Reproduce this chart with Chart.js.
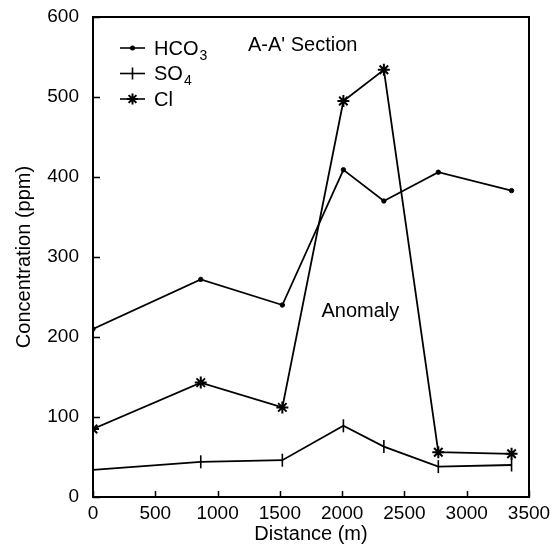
<!DOCTYPE html>
<html>
<head>
<meta charset="utf-8">
<script src="https://cdn.jsdelivr.net/npm/chart.js@4/dist/chart.umd.min.js"></script>
<style>
  html, body { margin: 0; padding: 0; background: #fff; }
  #wrap { width: 557px; height: 546px; }
</style>
</head>
<body>
<div id="wrap"><canvas id="chem-chart" width="557" height="546"></canvas></div>
<script>
// Jarak titik sampel (m)
const distance = [0, 865, 1520, 2010, 2335, 2772, 3360];

// Konsentrasi (ppm)
const hco3 = [210, 272, 240, 409, 370, 406, 383];
const so4 = [34, 44, 46, 89, 63, 38, 40];
const cl = [85, 143, 112, 495, 534, 56, 54];

const seriesNames = ["HCO", "SO", "Cl"];
const seriesSubs = ["3", "4", ""];

const xTicks = [0, 500, 1000, 1500, 2000, 2500, 3000, 3500];
const yTicks = [0, 100, 200, 300, 400, 500, 600];

const FONT = "'Liberation Sans', Arial, Helvetica, sans-serif";
Chart.defaults.font.family = FONT;
Chart.defaults.color = "#000";

function toPoints(ys) {
  return distance.map((d, i) => ({ x: d, y: ys[i] }));
}

// gambar marker sederhana untuk legenda
function marker(ctx, style, x, y, r) {
  ctx.beginPath();
  if (style === "circle") {
    ctx.arc(x, y, r, 0, Math.PI * 2);
    ctx.fill();
    return;
  }
  if (style === "line") {
    ctx.moveTo(x, y - r); ctx.lineTo(x, y + r);
  } else if (style === "star") {
    for (let k = 0; k < 4; k++) {
      const a = k * Math.PI / 4;
      ctx.moveTo(x - Math.sin(a) * r, y - Math.cos(a) * r);
      ctx.lineTo(x + Math.sin(a) * r, y + Math.cos(a) * r);
    }
  }
  ctx.stroke();
}

const framePlugin = {
  id: "frame",
  afterDraw(chart) {
    const ctx = chart.ctx;
    const a = chart.chartArea;
    const xs = chart.scales.x, ys = chart.scales.y;
    ctx.save();
    ctx.strokeStyle = "#000";
    ctx.lineWidth = 2;
    ctx.strokeRect(a.left, a.top, a.right - a.left, a.bottom - a.top);

    // tick ke dalam
    ctx.lineWidth = 1.5;
    ctx.beginPath();
    xTicks.forEach(v => {
      const px = Math.round(xs.getPixelForValue(v)) + 0.5;
      ctx.moveTo(px, a.bottom); ctx.lineTo(px, a.bottom - 6);
    });
    yTicks.forEach(v => {
      const py = Math.round(ys.getPixelForValue(v)) + 0.5;
      ctx.moveTo(a.left, py); ctx.lineTo(a.left + 7, py);
    });
    ctx.stroke();

    // teks di dalam grafik
    ctx.fillStyle = "#000";
    ctx.font = "20px " + FONT;
    ctx.textBaseline = "alphabetic";
    ctx.textAlign = "left";
    ctx.fillText("A-A' Section", xs.getPixelForValue(1244), ys.getPixelForValue(558));
    ctx.fillText("Anomaly", xs.getPixelForValue(1834), ys.getPixelForValue(225));

    // legenda
    chart.data.datasets.forEach((ds, i) => {
      const y = a.top + 31 + i * 25.5;
      ctx.lineWidth = 1.6;
      ctx.beginPath();
      ctx.moveTo(120, y); ctx.lineTo(145, y);
      ctx.stroke();
      ctx.lineWidth = ds.pointBorderWidth || 1.5;
      marker(ctx, ds.pointStyle, 132.5, y, ds.pointStyle === "circle" ? 2.5 : (ds.pointStyle === "line" ? 6 : 5.5));
      ctx.font = "20px " + FONT;
      ctx.textBaseline = "middle";
      ctx.fillText(seriesNames[i], 154, y + 1);
      const w = ctx.measureText(seriesNames[i]).width;
      if (seriesSubs[i]) {
        ctx.font = "14px " + FONT;
        ctx.fillText(seriesSubs[i], 154 + w + 1, y + 8);
      }
    });
    ctx.restore();
  }
};

new Chart(document.getElementById("chem-chart"), {
  type: "scatter",
  data: {
    datasets: [
      {
        label: "HCO3",
        data: toPoints(hco3),
        showLine: true,
        borderColor: "#000",
        backgroundColor: "#000",
        borderWidth: 1.8,
        pointStyle: "circle",
        pointRadius: 2.2,
        pointBorderWidth: 1,
        pointBackgroundColor: "#000",
        pointBorderColor: "#000"
      },
      {
        label: "SO4",
        data: toPoints(so4),
        showLine: true,
        borderColor: "#000",
        backgroundColor: "#000",
        borderWidth: 1.8,
        pointStyle: "line",
        rotation: 90,
        pointRadius: 6.5,
        pointBorderWidth: 1.6,
        pointBorderColor: "#000"
      },
      {
        label: "Cl",
        data: toPoints(cl),
        showLine: true,
        borderColor: "#000",
        backgroundColor: "#000",
        borderWidth: 1.8,
        pointStyle: "star",
        pointRadius: 6,
        pointBorderWidth: 2,
        pointBorderColor: "#000"
      }
    ]
  },
  options: {
    responsive: false,
    animation: false,
    layout: { padding: { top: 17, right: 28, left: 0, bottom: 0 } },
    plugins: {
      legend: { display: false },
      tooltip: { enabled: false }
    },
    scales: {
      x: {
        type: "linear",
        min: 0,
        max: 3500,
        afterFit: s => { s.height = 49; s.paddingLeft = 0; s.paddingRight = 0; },
        afterBuildTicks: s => { s.ticks = xTicks.map(v => ({ value: v })); },
        grid: { display: false, drawTicks: false },
        border: { display: false },
        ticks: { font: { size: 19 }, padding: 5, maxRotation: 0, callback: v => String(v) },
        title: { display: true, text: "Distance (m)", font: { size: 20 }, padding: { top: 0, bottom: 0 } }
      },
      y: {
        type: "linear",
        min: 0,
        max: 600,
        afterFit: s => { s.width = 93; s.paddingTop = 0; s.paddingBottom = 0; },
        afterBuildTicks: s => { s.ticks = yTicks.map(v => ({ value: v })); },
        grid: { display: false, drawTicks: false },
        border: { display: false },
        ticks: { font: { size: 19 }, padding: 14, callback: v => String(v) },
        title: { display: true, text: "Concentration (ppm)", font: { size: 20 }, padding: { top: 12, bottom: 0 } }
      }
    }
  },
  plugins: [framePlugin]
});
</script>
</body>
</html>
